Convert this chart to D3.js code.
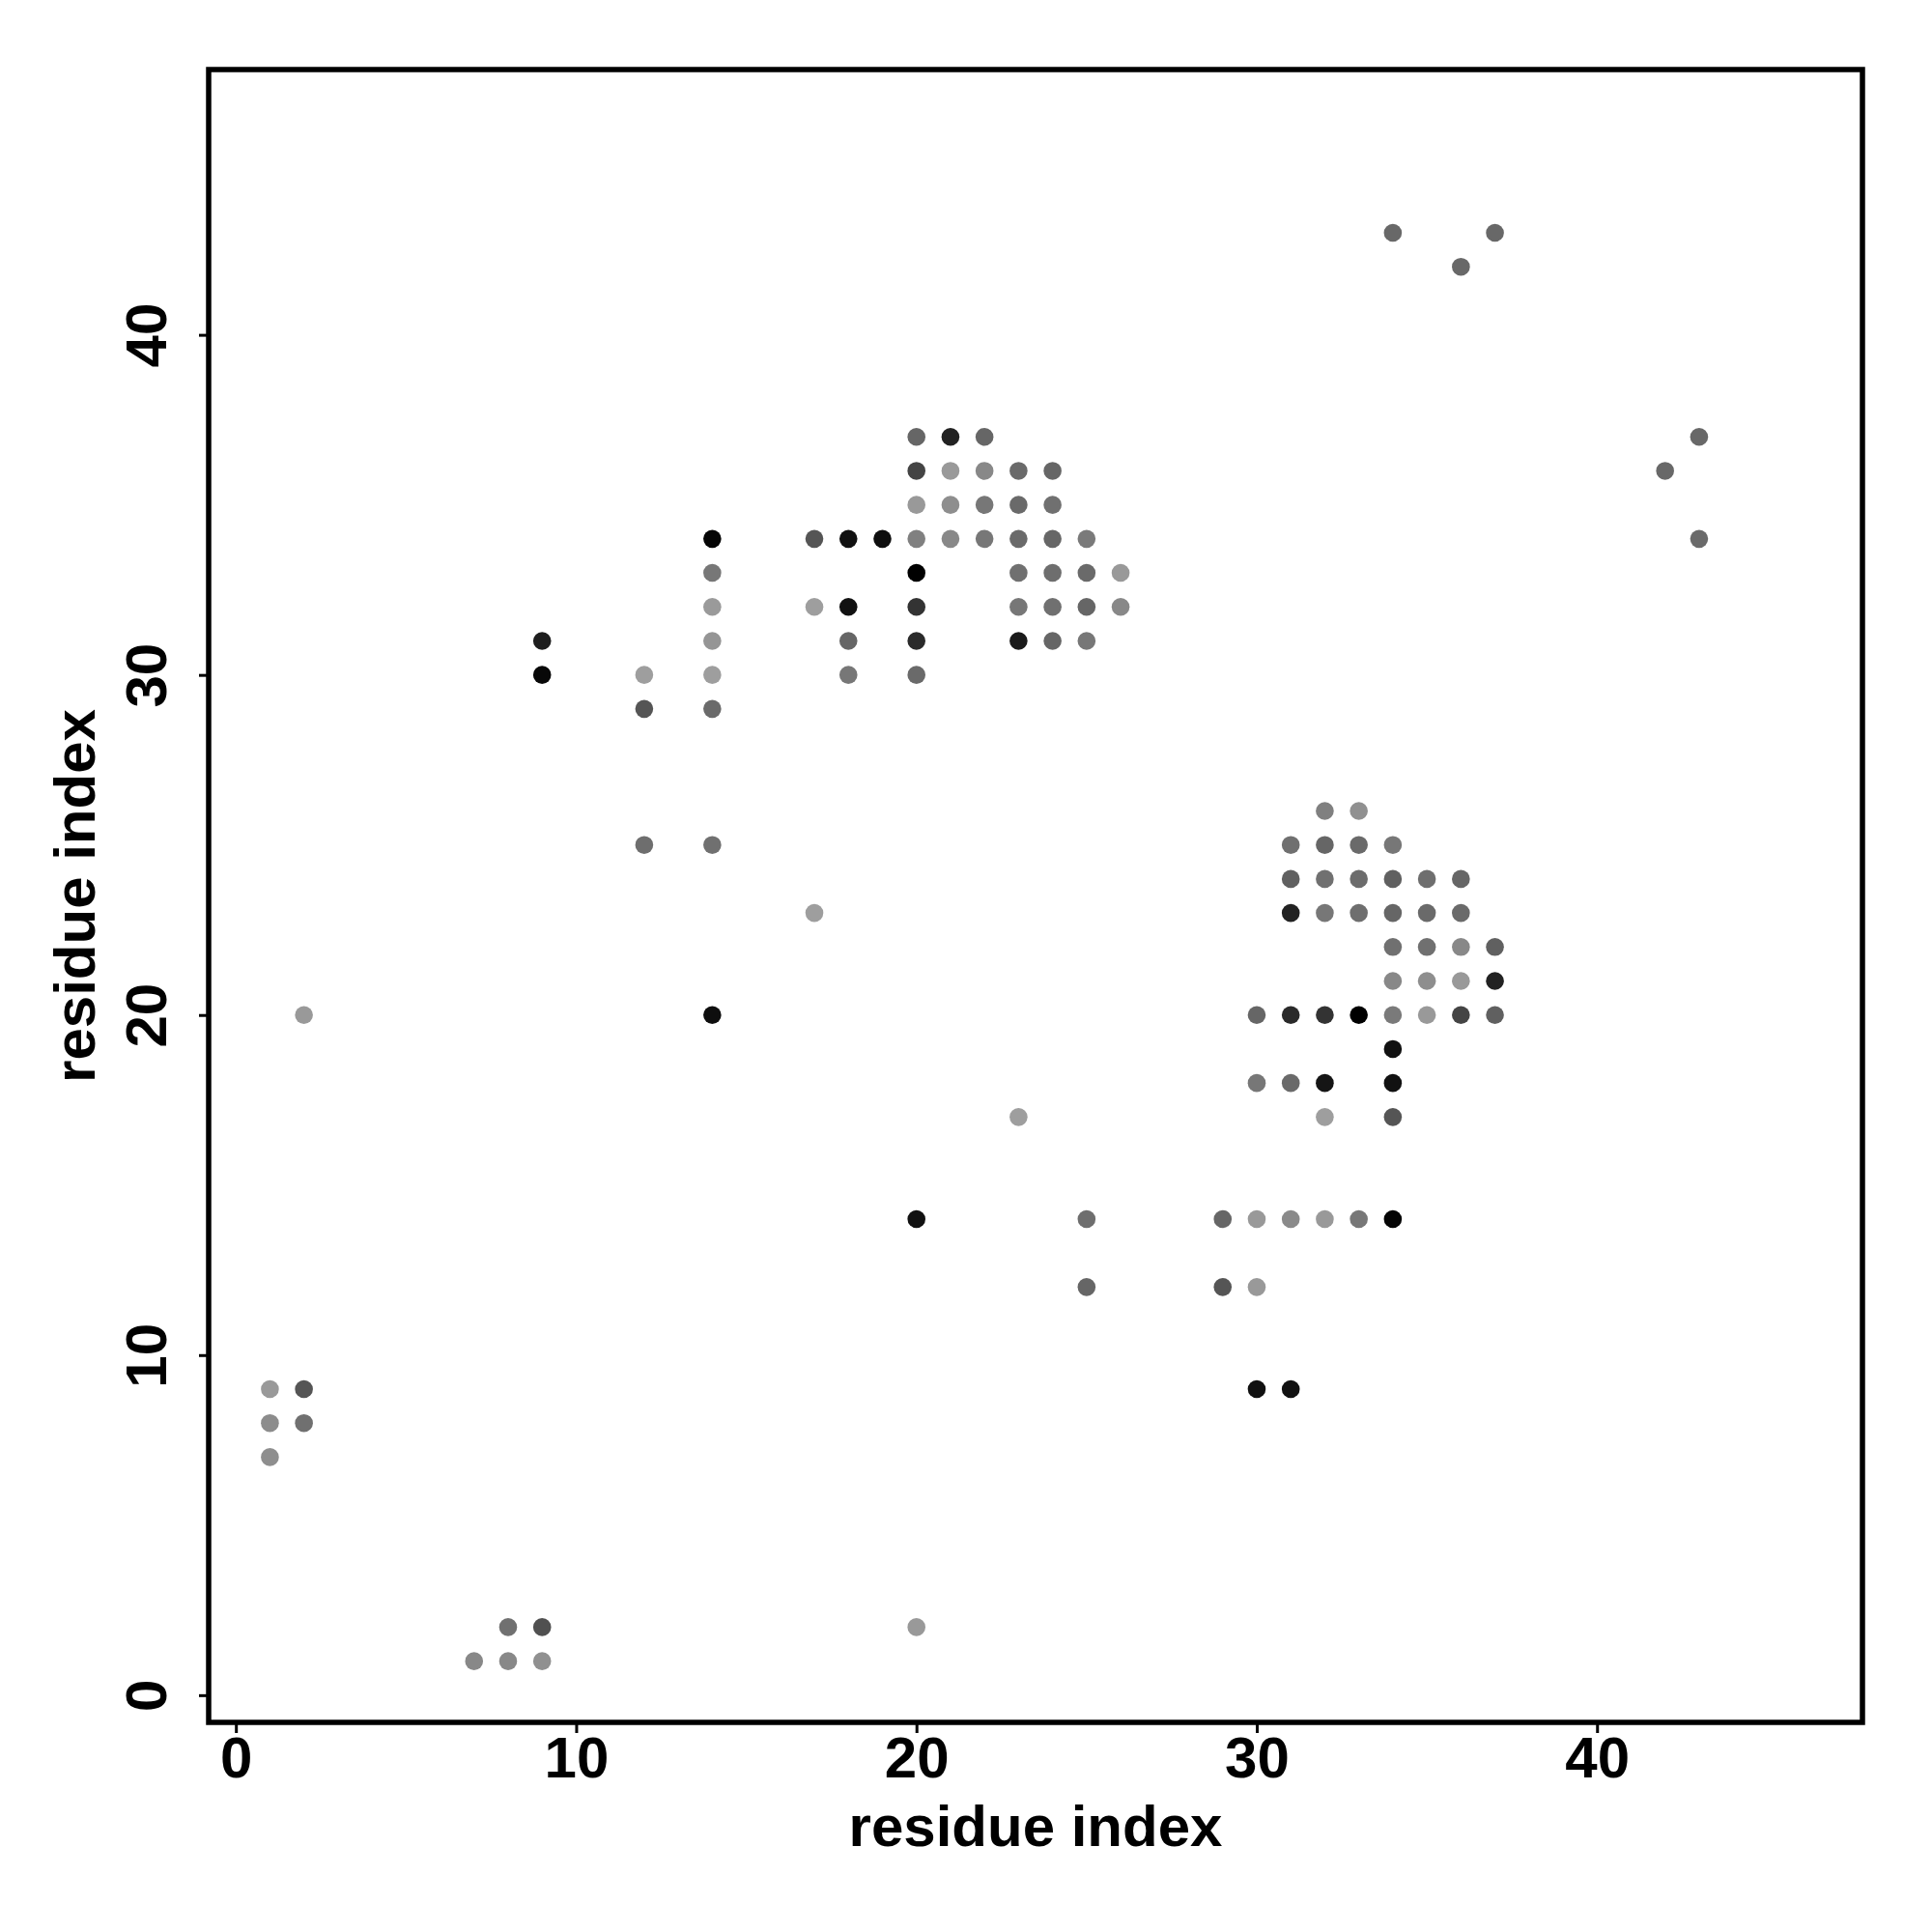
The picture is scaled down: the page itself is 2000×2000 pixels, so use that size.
<!DOCTYPE html>
<html>
<head>
<meta charset="utf-8">
<script src="https://cdn.jsdelivr.net/npm/d3@7"></script>
<style>
  html, body { margin: 0; padding: 0; background: #fff; }
  svg { display: block; }
</style>
</head>
<body>
<svg id="chart" width="2000" height="2000"></svg>
<script>
// residue i (x), residue j (y), grey level of the dot (0 = black)
const resI = [34,37, 36,
  20,21,22,43,
  20,21,22,23,24,42,
  20,21,22,23,24,
  14,17,18,19,20,21,22,23,24,25,43,
  14,20,23,24,25,26,
  14,17,18,20,23,24,25,26,
  9,14,18,20,23,24,25,
  9,12,14,18,20,
  12,14,
  32,33,
  12,14,31,32,33,34,
  31,32,33,34,35,36,
  17,31,32,33,34,35,36,
  34,35,36,37,
  34,35,36,37,
  2,14,30,31,32,33,34,35,36,37,
  34,
  30,31,32,34,
  23,32,34,
  20,25,29,30,31,32,33,34,
  25,29,30,
  1,2,30,31,
  1,2,
  1,
  8,9,20,
  7,8,9];
const resJ = [43,43, 42,
  37,37,37,37,
  36,36,36,36,36,36,
  35,35,35,35,35,
  34,34,34,34,34,34,34,34,34,34,34,
  33,33,33,33,33,33,
  32,32,32,32,32,32,32,32,
  31,31,31,31,31,31,31,
  30,30,30,30,30,
  29,29,
  26,26,
  25,25,25,25,25,25,
  24,24,24,24,24,24,
  23,23,23,23,23,23,23,
  22,22,22,22,
  21,21,21,21,
  20,20,20,20,20,20,20,20,20,20,
  19,
  18,18,18,18,
  17,17,17,
  14,14,14,14,14,14,14,14,
  12,12,12,
  9,9,9,9,
  8,8,
  7,
  2,2,2,
  1,1,1];
const shade = [104,104, 104,
  102,34,102,104,
  68,153,136,106,102,104,
  153,142,119,106,112,
  5,85,17,14,128,136,119,106,102,122,106,
  119,0,112,110,106,153,
  154,158,17,51,119,112,102,136,
  30,149,102,42,26,102,119,
  8,158,158,119,106,
  85,106,
  128,144,
  110,112,112,102,106,119,
  96,112,108,96,110,102,
  158,34,119,110,102,106,106,
  112,112,136,96,
  136,142,153,34,
  153,14,102,42,51,0,122,153,68,96,
  17,
  119,106,21,17,
  158,158,85,
  17,110,102,153,138,153,119,5,
  102,85,153,
  153,85,17,17,
  140,112,
  142,
  112,80,153,
  136,136,144];
const xTicks = [0, 10, 20, 30, 40];
const yTicks = [0, 10, 20, 30, 40];
const axisTitleX = "residue index";
const axisTitleY = "residue index";

(function () {
  const points = resI.map((xv, k) => ({ x: xv, y: resJ[k], g: shade[k] }));

  const pLeft = 216, pRight = 1928, pTop = 72, pBottom = 1783;
  const dMin = 1 - 0.04 * 45, dMax = 46 + 0.04 * 45;
  const x = d3.scaleLinear().domain([dMin, dMax]).range([pLeft, pRight]);
  const y = d3.scaleLinear().domain([dMin, dMax]).range([pBottom, pTop]);
  const grey = d3.scaleLinear().domain([0, 255]).range(["#000000", "#ffffff"]);

  const svg = d3.select("#chart");
  const font = "'Liberation Sans', Arial, Helvetica, sans-serif";

  svg.append("g")
    .selectAll("circle")
    .data(points)
    .join("circle")
    .attr("cx", d => x(d.x))
    .attr("cy", d => y(d.y))
    .attr("r", 9.3)
    .attr("fill", d => grey(d.g));

  // x axis
  const gx = svg.append("g")
    .attr("transform", `translate(0,${pBottom})`)
    .call(d3.axisBottom(x).tickValues(xTicks).tickFormat(d3.format("d")).tickSize(11).tickPadding(3));
  gx.select(".domain").remove();
  gx.selectAll(".tick line").attr("stroke", "#000").attr("stroke-width", 3);
  gx.selectAll(".tick text")
    .attr("font-family", font).attr("font-weight", "bold").attr("font-size", 60).attr("fill", "#000");

  // y axis
  const gy = svg.append("g")
    .attr("transform", `translate(${pLeft},0)`)
    .call(d3.axisLeft(y).tickValues(yTicks).tickFormat(d3.format("d")).tickSize(10));
  gy.select(".domain").remove();
  gy.selectAll(".tick line").attr("stroke", "#000").attr("stroke-width", 3);
  gy.selectAll(".tick text")
    .attr("font-family", font).attr("font-weight", "bold").attr("font-size", 60).attr("fill", "#000")
    .attr("transform", "rotate(-90)")
    .attr("x", 0).attr("y", -44).attr("dy", null)
    .attr("text-anchor", "middle");

  // box
  svg.append("rect")
    .attr("x", pLeft).attr("y", pTop)
    .attr("width", pRight - pLeft).attr("height", pBottom - pTop)
    .attr("fill", "none").attr("stroke", "#000").attr("stroke-width", 5.5);

  // axis titles
  svg.append("text")
    .attr("x", (pLeft + pRight) / 2).attr("y", 1911)
    .attr("text-anchor", "middle")
    .attr("font-family", font).attr("font-weight", "bold").attr("font-size", 60)
    .text(axisTitleX);

  svg.append("text")
    .attr("transform", `translate(98,${(pTop + pBottom) / 2}) rotate(-90)`)
    .attr("text-anchor", "middle")
    .attr("font-family", font).attr("font-weight", "bold").attr("font-size", 60)
    .text(axisTitleY);
})();
</script>
</body>
</html>
